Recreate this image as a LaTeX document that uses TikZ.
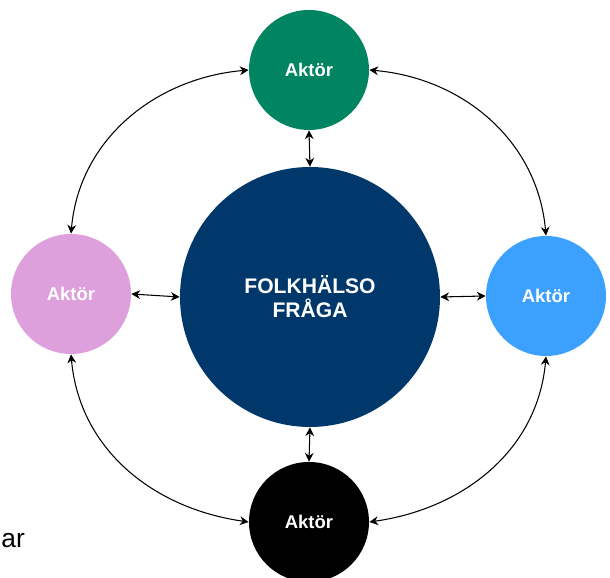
\documentclass[tikz,border=0pt]{standalone}
\usepackage{fontspec}
\setmainfont{Liberation Sans}
\usepackage{tikz}
\usetikzlibrary{arrows.meta,positioning}

\definecolor{aktgreen}{RGB}{0,132,98}
\definecolor{aktpink}{RGB}{221,160,221}
\definecolor{aktblue}{RGB}{60,160,255}
\definecolor{fhnavy}{RGB}{0,56,108}

\begin{document}
\begin{tikzpicture}[
  >=Stealth,
  akt/.style={circle, minimum size=2.4cm, inner sep=0pt,
              text=white, font=\fontsize{10.5}{12}\selectfont\bfseries},
  mid/.style={circle, fill=fhnavy, minimum size=5.2cm, inner sep=0pt,
              text=white, align=center,
              font=\fontsize{12}{13.7}\selectfont\bfseries},
  lnk/.style={line width=0.6pt, {Stealth[length=5pt,width=5pt]}-{Stealth[length=5pt,width=5pt]}},
]
  \useasboundingbox (0,0) rectangle (12.2,11.56);

  %% centre
  \node[mid] (fh) at (6.20, 5.62) {FOLKHÄLSO\\FRÅGA};

  %% actors round the centre
  \node[akt, fill=aktgreen] (top) at (6.18, 10.16) {Aktör};
  \node[akt, fill=aktpink]  (lft) at (1.42, 5.68)  {Aktör};
  \node[akt, fill=aktblue]  (rgt) at (10.92, 5.64) {Aktör};
  \node[akt, fill=black]    (bot) at (6.18, 1.12)  {Aktör};

  %% text at the left edge
  \node[anchor=base west, inner sep=0pt, font=\fontsize{15}{18}\selectfont]
    (cut) at (0.02, 0.6) {ar};

  %% straight links to the centre
  \draw[lnk] (top.south) -- (fh.north);
  \draw[lnk] (lft.east)  -- (fh.west);
  \draw[lnk] (rgt.west)  -- (fh.east);
  \draw[lnk] (bot.north) -- (fh.south);

  %% curved links between actors
  \draw[lnk] (top.west)  to[out=185, in=85]  (lft.north);
  \draw[lnk] (top.east)  to[out=-5,  in=95]  (rgt.north);
  \draw[lnk] (lft.south) to[out=-85, in=172] (bot.west);
  \draw[lnk] (rgt.south) to[out=-95, in=8]   (bot.east);
\end{tikzpicture}
\end{document}
